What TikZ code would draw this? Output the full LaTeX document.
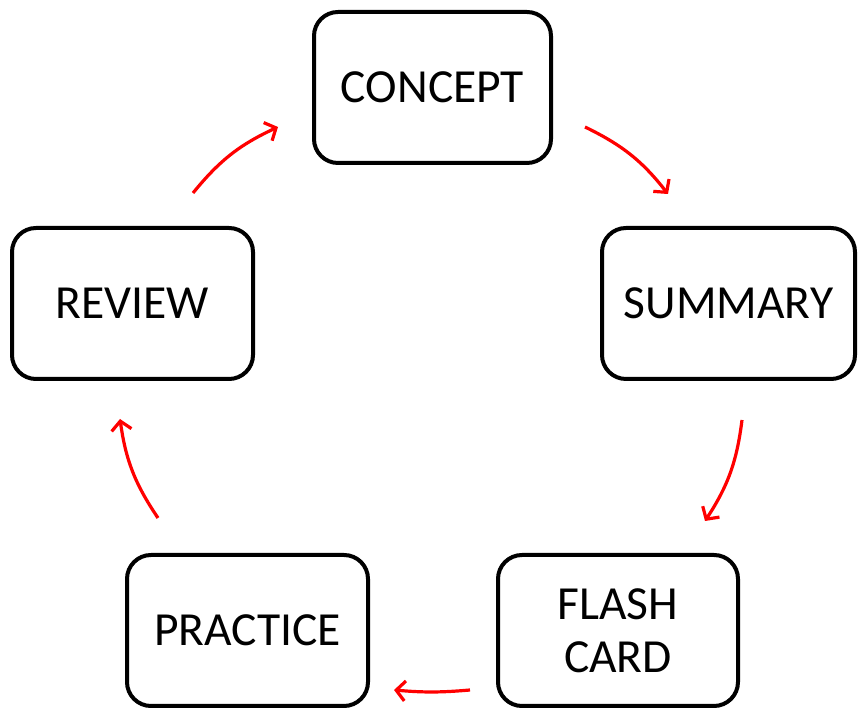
\documentclass[tikz,border=0pt]{standalone}
\usepackage{fontspec}
\setmainfont{Carlito}
\usetikzlibrary{arrows.meta}
\begin{document}
\begin{tikzpicture}[x=1pt,y=1pt,
  stage/.style={draw=black, line width=4pt, rounded corners=24pt, fill=white,
    align=center, font=\fontsize{47.5}{53}\selectfont, inner sep=0pt,
    minimum height=151pt},
  cyc/.style={draw=red, line width=3.2pt, -{Straight Barb[length=9pt,width=20pt]}, bend left=13}]
\useasboundingbox (0,0) rectangle (859,711);
\node[stage, minimum width=237pt] (concept) at (432.5,623.5) {CONCEPT};
\node[stage, minimum width=253pt] (summary) at (728.5,407.5) {SUMMARY};
\node[stage, minimum width=240pt] (flash) at (618,80.5) {FLASH\\CARD};
\node[stage, minimum width=241pt] (practice) at (247.5,80.5) {PRACTICE};
\node[stage, minimum width=241pt] (review) at (132.5,407.5) {REVIEW};
\coordinate (a1s) at (585,584); \coordinate (a1e) at (668,517);
\coordinate (a2s) at (742,291); \coordinate (a2e) at (705,190);
\coordinate (a3s) at (470,21);  \coordinate (a3e) at (394,21);
\coordinate (a4s) at (158,193); \coordinate (a4e) at (120,292);
\coordinate (a5s) at (193,518); \coordinate (a5e) at (278,584);
\draw[cyc] (a1s) to (a1e);
\draw[cyc] (a2s) to (a2e);
\draw[cyc, bend left=5] (a3s) to (a3e);
\draw[cyc] (a4s) to (a4e);
\draw[cyc] (a5s) to (a5e);
\end{tikzpicture}
\end{document}
